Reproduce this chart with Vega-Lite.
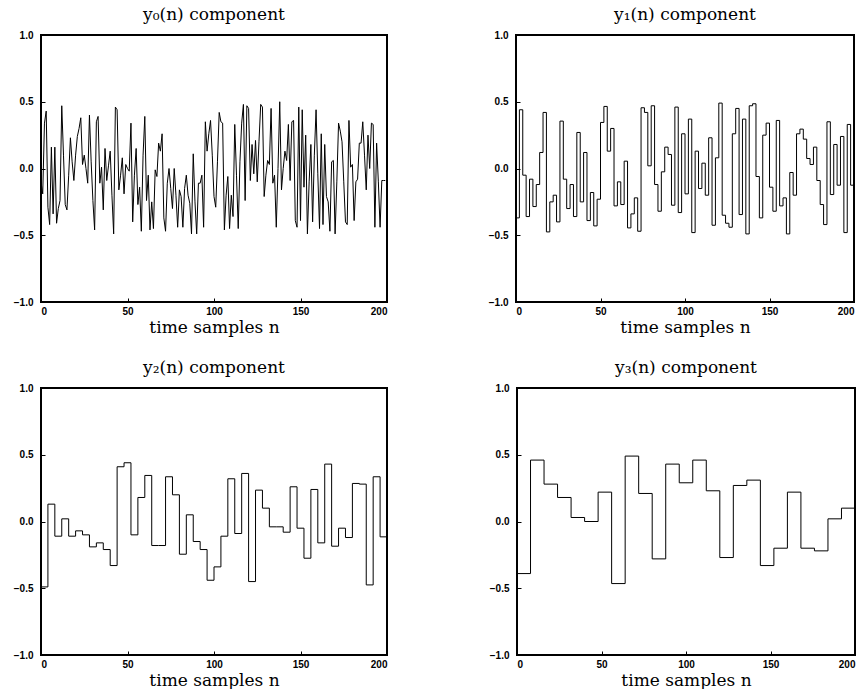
{
  "$schema": "https://vega.github.io/schema/vega-lite/v6.json",
  "background": "white",
  "padding": {"left": 12, "top": 5, "right": 5, "bottom": 5},
  "datasets": {
    "y0": [
      {"n":0,"v":-0.10},{"n":1,"v":-0.19},{"n":2,"v":0.34},{"n":3,"v":0.43},{"n":4,"v":-0.29},{"n":5,"v":-0.42},{"n":6,"v":0.16},{"n":7,"v":-0.34},{"n":8,"v":0.16},{"n":9,"v":-0.41},
      {"n":10,"v":-0.30},{"n":11,"v":-0.24},{"n":12,"v":0.47},{"n":13,"v":0.10},{"n":14,"v":-0.27},{"n":15,"v":-0.31},{"n":16,"v":-0.05},{"n":17,"v":0.23},{"n":18,"v":0.05},{"n":19,"v":-0.09},
      {"n":20,"v":0.10},{"n":21,"v":0.24},{"n":22,"v":0.30},{"n":23,"v":0.38},{"n":24,"v":0.03},{"n":25,"v":0.10},{"n":26,"v":0.00},{"n":27,"v":-0.11},{"n":28,"v":0.40},{"n":29,"v":0.05},
      {"n":30,"v":-0.24},{"n":31,"v":-0.46},{"n":32,"v":0.35},{"n":33,"v":0.39},{"n":34,"v":-0.11},{"n":35,"v":0.01},{"n":36,"v":-0.31},{"n":37,"v":0.15},{"n":38,"v":-0.09},{"n":39,"v":0.02},
      {"n":40,"v":0.13},{"n":41,"v":-0.20},{"n":42,"v":-0.49},{"n":43,"v":0.46},{"n":44,"v":0.44},{"n":45,"v":-0.16},{"n":46,"v":-0.05},{"n":47,"v":0.08},{"n":48,"v":-0.19},{"n":49,"v":0.03},
      {"n":50,"v":0.00},{"n":51,"v":-0.02},{"n":52,"v":0.34},{"n":53,"v":-0.40},{"n":54,"v":-0.05},{"n":55,"v":0.15},{"n":56,"v":-0.27},{"n":57,"v":-0.14},{"n":58,"v":-0.47},{"n":59,"v":0.10},
      {"n":60,"v":0.39},{"n":61,"v":-0.24},{"n":62,"v":-0.05},{"n":63,"v":-0.46},{"n":64,"v":-0.25},{"n":65,"v":-0.45},{"n":66,"v":-0.01},{"n":67,"v":-0.06},{"n":68,"v":0.19},{"n":69,"v":0.13},
      {"n":70,"v":0.26},{"n":71,"v":-0.37},{"n":72,"v":-0.47},{"n":73,"v":-0.11},{"n":74,"v":0.00},{"n":75,"v":-0.15},{"n":76,"v":-0.30},{"n":77,"v":0.00},{"n":78,"v":-0.20},{"n":79,"v":-0.44},
      {"n":80,"v":-0.16},{"n":81,"v":-0.21},{"n":82,"v":-0.44},{"n":83,"v":-0.15},{"n":84,"v":-0.05},{"n":85,"v":-0.20},{"n":86,"v":-0.26},{"n":87,"v":-0.49},{"n":88,"v":0.11},{"n":89,"v":-0.25},
      {"n":90,"v":-0.49},{"n":91,"v":-0.11},{"n":92,"v":-0.11},{"n":93,"v":-0.05},{"n":94,"v":-0.44},{"n":95,"v":0.35},{"n":96,"v":0.13},{"n":97,"v":0.26},{"n":98,"v":0.36},{"n":99,"v":0.10},
      {"n":100,"v":-0.21},{"n":101,"v":-0.29},{"n":102,"v":0.05},{"n":103,"v":0.42},{"n":104,"v":0.35},{"n":105,"v":0.34},{"n":106,"v":-0.46},{"n":107,"v":-0.20},{"n":108,"v":-0.06},{"n":109,"v":-0.45},
      {"n":110,"v":-0.20},{"n":111,"v":-0.36},{"n":112,"v":0.33},{"n":113,"v":-0.05},{"n":114,"v":-0.45},{"n":115,"v":0.05},{"n":116,"v":0.34},{"n":117,"v":0.48},{"n":118,"v":-0.24},{"n":119,"v":0.47},
      {"n":120,"v":0.45},{"n":121,"v":-0.09},{"n":122,"v":0.18},{"n":123,"v":-0.04},{"n":124,"v":0.21},{"n":125,"v":-0.10},{"n":126,"v":0.20},{"n":127,"v":0.48},{"n":128,"v":0.46},{"n":129,"v":-0.21},
      {"n":130,"v":-0.05},{"n":131,"v":0.06},{"n":132,"v":0.03},{"n":133,"v":0.45},{"n":134,"v":-0.11},{"n":135,"v":-0.05},{"n":136,"v":-0.44},{"n":137,"v":0.00},{"n":138,"v":0.50},{"n":139,"v":-0.16},
      {"n":140,"v":0.00},{"n":141,"v":0.13},{"n":142,"v":0.06},{"n":143,"v":0.33},{"n":144,"v":-0.09},{"n":145,"v":0.35},{"n":146,"v":0.36},{"n":147,"v":-0.39},{"n":148,"v":-0.44},{"n":149,"v":0.46},
      {"n":150,"v":-0.39},{"n":151,"v":0.44},{"n":152,"v":-0.14},{"n":153,"v":0.25},{"n":154,"v":-0.49},{"n":155,"v":-0.10},{"n":156,"v":0.18},{"n":157,"v":-0.40},{"n":158,"v":0.10},{"n":159,"v":0.44},
      {"n":160,"v":-0.04},{"n":161,"v":-0.45},{"n":162,"v":0.26},{"n":163,"v":-0.42},{"n":164,"v":0.18},{"n":165,"v":-0.21},{"n":166,"v":-0.25},{"n":167,"v":-0.47},{"n":168,"v":0.05},{"n":169,"v":0.06},
      {"n":170,"v":-0.49},{"n":171,"v":-0.10},{"n":172,"v":0.34},{"n":173,"v":0.28},{"n":174,"v":0.20},{"n":175,"v":-0.10},{"n":176,"v":-0.40},{"n":177,"v":-0.42},{"n":178,"v":0.36},{"n":179,"v":0.01},
      {"n":180,"v":0.03},{"n":181,"v":-0.39},{"n":182,"v":-0.10},{"n":183,"v":-0.08},{"n":184,"v":0.19},{"n":185,"v":0.19},{"n":186,"v":0.35},{"n":187,"v":0.10},{"n":188,"v":-0.16},{"n":189,"v":0.25},
      {"n":190,"v":0.00},{"n":191,"v":0.34},{"n":192,"v":0.33},{"n":193,"v":-0.44},{"n":194,"v":0.19},{"n":195,"v":-0.10},{"n":196,"v":-0.44},{"n":197,"v":-0.09},{"n":198,"v":-0.09},{"n":199,"v":-0.09}
    ],
    "y1": [
      {"n":0,"v":-0.37},{"n":2,"v":0.44},{"n":4,"v":-0.05},{"n":6,"v":-0.36},{"n":8,"v":-0.08},{"n":10,"v":-0.285},{"n":12,"v":-0.12},{"n":14,"v":0.12},{"n":16,"v":0.42},{"n":18,"v":-0.475},
      {"n":20,"v":-0.25},{"n":22,"v":-0.20},{"n":24,"v":-0.40},{"n":26,"v":0.355},{"n":28,"v":-0.08},{"n":30,"v":-0.30},{"n":32,"v":-0.12},{"n":34,"v":-0.36},{"n":36,"v":0.27},{"n":38,"v":-0.25},
      {"n":40,"v":0.12},{"n":42,"v":-0.39},{"n":44,"v":-0.18},{"n":46,"v":-0.43},{"n":48,"v":-0.23},{"n":50,"v":0.345},{"n":52,"v":0.465},{"n":54,"v":0.13},{"n":56,"v":0.30},{"n":58,"v":-0.28},
      {"n":60,"v":-0.10},{"n":62,"v":-0.27},{"n":64,"v":0.055},{"n":66,"v":-0.445},{"n":68,"v":-0.34},{"n":70,"v":-0.22},{"n":72,"v":-0.47},{"n":74,"v":0.455},{"n":76,"v":0.42},{"n":78,"v":0.02},
      {"n":80,"v":0.47},{"n":82,"v":-0.12},{"n":84,"v":-0.32},{"n":86,"v":-0.025},{"n":88,"v":0.16},{"n":90,"v":0.105},{"n":92,"v":-0.275},{"n":94,"v":0.46},{"n":96,"v":-0.33},{"n":98,"v":0.26},
      {"n":100,"v":-0.19},{"n":102,"v":0.37},{"n":104,"v":-0.48},{"n":106,"v":0.13},{"n":108,"v":-0.15},{"n":110,"v":0.04},{"n":112,"v":-0.20},{"n":114,"v":0.23},{"n":116,"v":-0.425},{"n":118,"v":0.08},
      {"n":120,"v":0.49},{"n":122,"v":-0.35},{"n":124,"v":-0.41},{"n":126,"v":-0.44},{"n":128,"v":0.26},{"n":130,"v":0.45},{"n":132,"v":-0.345},{"n":134,"v":0.37},{"n":136,"v":-0.49},{"n":138,"v":0.47},
      {"n":140,"v":0.485},{"n":142,"v":-0.06},{"n":144,"v":-0.37},{"n":146,"v":0.25},{"n":148,"v":0.34},{"n":150,"v":-0.14},{"n":152,"v":-0.32},{"n":154,"v":0.36},{"n":156,"v":-0.28},{"n":158,"v":-0.22},
      {"n":160,"v":-0.49},{"n":162,"v":-0.03},{"n":164,"v":-0.20},{"n":166,"v":0.26},{"n":168,"v":0.295},{"n":170,"v":0.22},{"n":172,"v":0.075},{"n":174,"v":0.03},{"n":176,"v":0.16},{"n":178,"v":-0.09},
      {"n":180,"v":-0.27},{"n":182,"v":-0.42},{"n":184,"v":0.35},{"n":186,"v":-0.195},{"n":188,"v":0.18},{"n":190,"v":-0.125},{"n":192,"v":0.24},{"n":194,"v":-0.48},{"n":196,"v":0.33},{"n":198,"v":-0.125},
      {"n":200,"v":-0.125}
    ],
    "y2": [
      {"n":0,"v":-0.49},{"n":4,"v":0.13},{"n":8,"v":-0.11},{"n":12,"v":0.02},{"n":16,"v":-0.11},{"n":20,"v":-0.07},{"n":24,"v":-0.10},{"n":28,"v":-0.19},{"n":32,"v":-0.16},{"n":36,"v":-0.21},
      {"n":40,"v":-0.33},{"n":44,"v":0.41},{"n":48,"v":0.44},{"n":52,"v":-0.10},{"n":56,"v":0.18},{"n":60,"v":0.345},{"n":64,"v":-0.18},{"n":68,"v":-0.18},{"n":72,"v":0.335},{"n":76,"v":0.20},
      {"n":80,"v":-0.245},{"n":84,"v":0.05},{"n":88,"v":-0.15},{"n":92,"v":-0.21},{"n":96,"v":-0.44},{"n":100,"v":-0.34},{"n":104,"v":-0.11},{"n":108,"v":0.32},{"n":112,"v":-0.09},{"n":116,"v":0.36},
      {"n":120,"v":-0.45},{"n":124,"v":0.235},{"n":128,"v":0.10},{"n":132,"v":-0.04},{"n":136,"v":-0.04},{"n":140,"v":-0.08},{"n":144,"v":0.26},{"n":148,"v":-0.05},{"n":152,"v":-0.275},{"n":156,"v":0.24},
      {"n":160,"v":-0.16},{"n":164,"v":0.43},{"n":168,"v":-0.185},{"n":172,"v":-0.05},{"n":176,"v":-0.12},{"n":180,"v":0.285},{"n":184,"v":0.28},{"n":188,"v":-0.475},{"n":192,"v":0.335},{"n":196,"v":-0.115},
      {"n":200,"v":-0.115}
    ],
    "y3": [
      {"n":0,"v":-0.39},{"n":8,"v":0.46},{"n":16,"v":0.28},{"n":24,"v":0.18},{"n":32,"v":0.03},{"n":40,"v":0.00},{"n":48,"v":0.22},{"n":56,"v":-0.465},{"n":64,"v":0.49},{"n":72,"v":0.21},
      {"n":80,"v":-0.28},{"n":88,"v":0.43},{"n":96,"v":0.29},{"n":104,"v":0.46},{"n":112,"v":0.23},{"n":120,"v":-0.27},{"n":128,"v":0.27},{"n":136,"v":0.31},{"n":144,"v":-0.33},{"n":152,"v":-0.20},
      {"n":160,"v":0.22},{"n":168,"v":-0.20},{"n":176,"v":-0.22},{"n":184,"v":0.02},{"n":192,"v":0.10},{"n":200,"v":0.10}
    ]
  },
  "config": {
    "view": {"stroke": "black", "strokeWidth": 2},
    "axis": {
      "grid": false, "domain": false,
      "tickColor": "black", "tickSize": -4, "tickWidth": 1,
      "labelFont": "Liberation Sans", "labelFontWeight": "bold", "labelFontSize": 10, "labelColor": "black",
      "titleFont": "DejaVu Serif", "titleFontWeight": "normal", "titleFontSize": 17, "titleColor": "black"
    },
    "axisX": {"labelPadding": 8, "titlePadding": 3},
    "axisY": {"labelPadding": 12},
    "title": {"font": "DejaVu Serif", "fontWeight": "normal", "fontSize": 17, "color": "black", "offset": 6}
  },
  "vconcat": [
    {"hconcat": [
      {"width": 346, "height": 267, "data": {"name": "y0"}, "title": "y₀(n)  component",
       "mark": {"type": "line", "color": "black", "strokeWidth": 1},
       "encoding": {
         "x": {"field": "n", "type": "quantitative", "scale": {"domain": [0, 200], "nice": false}, "axis": {"values": [0, 50, 100, 150, 200], "title": "time samples n"}},
         "y": {"field": "v", "type": "quantitative", "scale": {"domain": [-1, 1], "nice": false, "zero": false}, "axis": {"values": [-1, -0.5, 0, 0.5, 1], "format": ".1f", "title": null}}
       }},
      {"width": 338, "height": 267, "data": {"name": "y1"}, "title": "y₁(n)  component",
       "mark": {"type": "line", "color": "black", "strokeWidth": 1, "interpolate": "step-after"},
       "encoding": {
         "x": {"field": "n", "type": "quantitative", "scale": {"domain": [0, 200], "nice": false}, "axis": {"values": [0, 50, 100, 150, 200], "title": "time samples n"}},
         "y": {"field": "v", "type": "quantitative", "scale": {"domain": [-1, 1], "nice": false, "zero": false}, "axis": {"values": [-1, -0.5, 0, 0.5, 1], "format": ".1f", "title": null}}
       }}
    ], "spacing": 98},
    {"hconcat": [
      {"width": 346, "height": 267, "data": {"name": "y2"}, "title": "y₂(n)  component",
       "mark": {"type": "line", "color": "black", "strokeWidth": 1, "interpolate": "step-after"},
       "encoding": {
         "x": {"field": "n", "type": "quantitative", "scale": {"domain": [0, 200], "nice": false}, "axis": {"values": [0, 50, 100, 150, 200], "title": "time samples n"}},
         "y": {"field": "v", "type": "quantitative", "scale": {"domain": [-1, 1], "nice": false, "zero": false}, "axis": {"values": [-1, -0.5, 0, 0.5, 1], "format": ".1f", "title": null}}
       }},
      {"width": 338, "height": 267, "data": {"name": "y3"}, "title": "y₃(n)  component",
       "mark": {"type": "line", "color": "black", "strokeWidth": 1, "interpolate": "step-after"},
       "encoding": {
         "x": {"field": "n", "type": "quantitative", "scale": {"domain": [0, 200], "nice": false}, "axis": {"values": [0, 50, 100, 150, 200], "title": "time samples n"}},
         "y": {"field": "v", "type": "quantitative", "scale": {"domain": [-1, 1], "nice": false, "zero": false}, "axis": {"values": [-1, -0.5, 0, 0.5, 1], "format": ".1f", "title": null}}
       }}
    ], "spacing": 98}
  ],
  "spacing": 22
}
